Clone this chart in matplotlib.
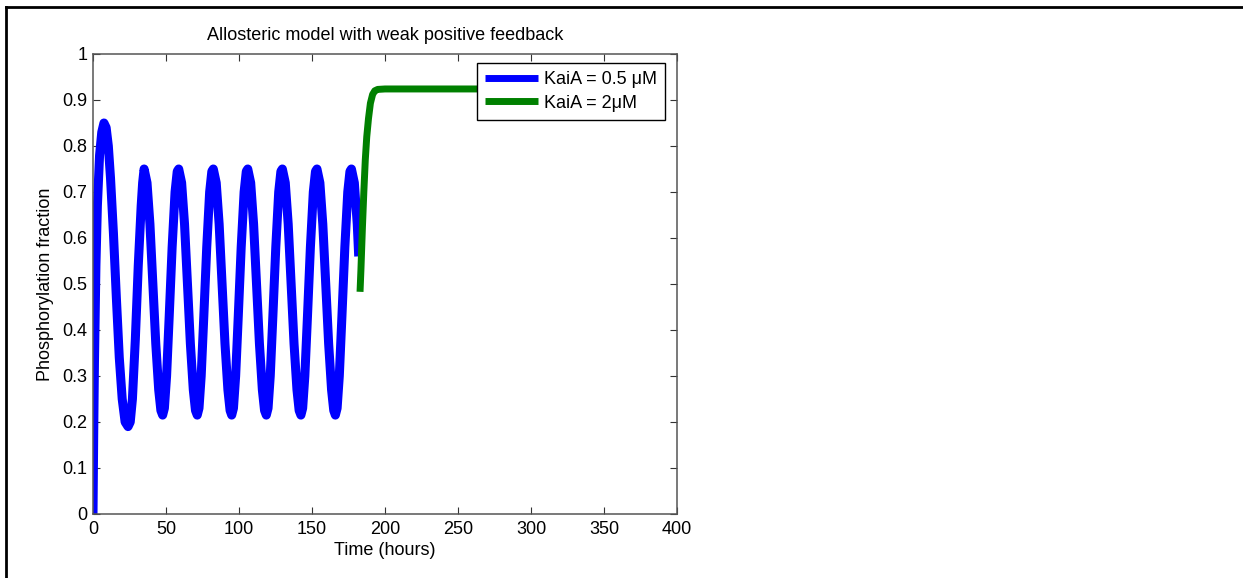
import matplotlib
matplotlib.use('Agg')
import matplotlib.pyplot as plt
from matplotlib.lines import Line2D

# blue run (KaiA = 0.5 uM)
t_low = [0.0, 0.5, 1.0, 2.0, 3.0, 4.5, 6.0, 7.5, 9.0, 10.5, 12.0, 14.0, 16.0, 18.0, 20.0, 22.0, 24.0,
         25.5, 27.0, 29.0, 31.0, 33.0, 34.0,
         35.0, 37.0, 39.0, 41.0, 43.0, 45.0, 46.5, 47.7, 48.9, 50.4, 52.2, 54.2, 56.2, 57.7,
         58.7, 60.7, 62.7, 64.7, 66.7, 68.7, 70.2, 71.4, 72.6, 74.1, 75.9, 77.9, 79.9, 81.4,
         82.4, 84.4, 86.4, 88.4, 90.4, 92.4, 93.9, 95.0, 96.2, 97.7, 99.5, 101.5, 103.5, 105.0,
         106.0, 108.0, 110.0, 112.0, 114.0, 116.0, 117.5, 118.7, 119.9, 121.4, 123.2, 125.2, 127.2, 128.7,
         129.7, 131.7, 133.7, 135.7, 137.7, 139.7, 141.2, 142.4, 143.6, 145.1, 146.9, 148.9, 150.9, 152.4,
         153.4, 155.4, 157.4, 159.4, 161.4, 163.4, 164.9, 166.0, 167.2, 168.7, 170.5, 172.5, 174.5, 176.0,
         177.0, 179.0, 181.0, 182.0]
p_low = [0.000, 0.180, 0.330, 0.540, 0.670, 0.780, 0.830, 0.850, 0.840, 0.800, 0.730, 0.610, 0.470, 0.340, 0.250, 0.200, 0.190,
         0.200, 0.250, 0.380, 0.540, 0.670, 0.720,
         0.750, 0.720, 0.630, 0.500, 0.370, 0.270, 0.225, 0.215, 0.230, 0.300, 0.430, 0.580, 0.700, 0.745,
         0.750, 0.720, 0.630, 0.500, 0.370, 0.270, 0.225, 0.215, 0.230, 0.300, 0.430, 0.580, 0.700, 0.745,
         0.750, 0.720, 0.630, 0.500, 0.370, 0.270, 0.225, 0.215, 0.230, 0.300, 0.430, 0.580, 0.700, 0.745,
         0.750, 0.720, 0.630, 0.500, 0.370, 0.270, 0.225, 0.215, 0.230, 0.300, 0.430, 0.580, 0.700, 0.745,
         0.750, 0.720, 0.630, 0.500, 0.370, 0.270, 0.225, 0.215, 0.230, 0.300, 0.430, 0.580, 0.700, 0.745,
         0.750, 0.720, 0.630, 0.500, 0.370, 0.270, 0.225, 0.215, 0.230, 0.300, 0.430, 0.580, 0.700, 0.745,
         0.750, 0.720, 0.630, 0.560]

# green run (KaiA = 2 uM)
t_high = [182.9, 183.5, 184.5, 185.5, 186.5, 187.5, 188.7, 190.0, 191.5, 193.0, 195.0, 200.0, 250.0, 300.0]
p_high = [0.483, 0.530, 0.620, 0.700, 0.770, 0.820, 0.860, 0.893, 0.912, 0.920, 0.923, 0.924, 0.924, 0.924]

x_ticks = [0, 50, 100, 150, 200, 250, 300, 350, 400]
y_ticks = [0, 0.1, 0.2, 0.3, 0.4, 0.5, 0.6, 0.7, 0.8, 0.9, 1]
y_labels = ['0', '0.1', '0.2', '0.3', '0.4', '0.5', '0.6', '0.7', '0.8', '0.9', '1']

plt.rcParams['font.family'] = ['Liberation Sans', 'DejaVu Sans']
plt.rcParams['font.size'] = 13

fig = plt.figure(figsize=(12.43, 5.78), dpi=100)
ax = fig.add_axes([93 / 1243, 1 - 514 / 578, 584 / 1243, 460 / 578])

ax.plot(t_low, p_low, color='#0000ff', lw=6.5, solid_capstyle='butt', solid_joinstyle='round',
        label='KaiA = 0.5 μM')
ax.plot(t_high, p_high, color='#008000', lw=5, solid_capstyle='butt', solid_joinstyle='round',
        label='KaiA = 2μM')

ax.set_xlim(0, 400)
ax.set_ylim(0, 1)
ax.set_xticks(x_ticks)
ax.set_yticks(y_ticks)
ax.set_yticklabels(y_labels)
ax.tick_params(direction='in', top=True, right=True, length=5, width=0.8, labelsize=13,
               colors='#333333', labelcolor='black')
ax.tick_params(axis='x', pad=5)
ax.tick_params(axis='y', pad=4)
for s in ax.spines.values():
    s.set_color('#555555')
    s.set_linewidth(1.1)

ax.set_title('Allosteric model with weak positive feedback', fontsize=13, pad=10)
ax.set_xlabel('Time (hours)', fontsize=13, labelpad=3)
ax.set_ylabel('Phosphorylation fraction', fontsize=13, labelpad=6)

leg = ax.legend(loc='upper right', bbox_to_anchor=(0.9795, 0.980), borderaxespad=0,
                fancybox=False, framealpha=1, edgecolor='black', handlelength=2.9,
                handletextpad=0.35, borderpad=0.45, labelspacing=0.35, fontsize=13)
leg.get_frame().set_linewidth(1.0)
for h in leg.get_lines():
    h.set_linewidth(5)

# page frame lines (top and left)
fig.add_artist(Line2D([6 / 1243, 1], [1 - 7 / 578, 1 - 7 / 578], color='black', lw=2, transform=fig.transFigure))
fig.add_artist(Line2D([6 / 1243, 6 / 1243], [0, 1 - 7 / 578], color='black', lw=2, transform=fig.transFigure))

fig.savefig('out.png', dpi=100)
